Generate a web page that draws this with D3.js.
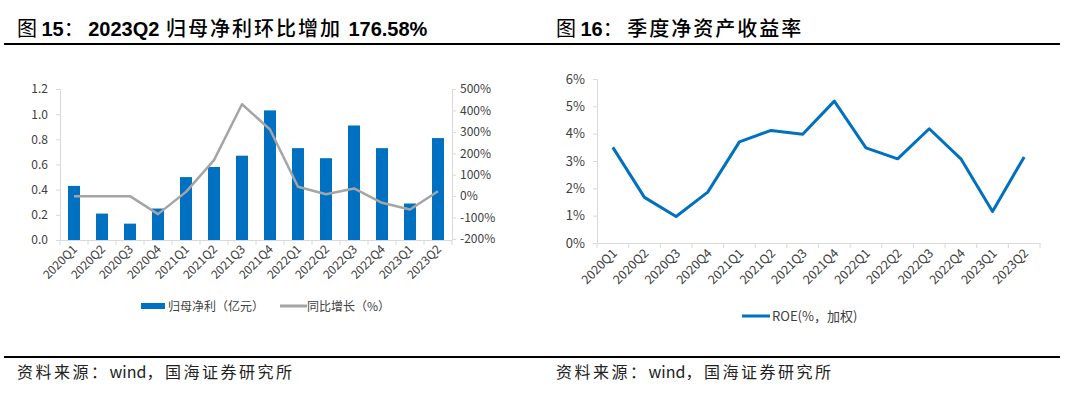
<!DOCTYPE html>
<html>
<head>
<meta charset="utf-8">
<title></title>
<script src="https://cdn.jsdelivr.net/npm/d3@7"></script>
<style>
  body{margin:0;background:#fff;}
  text{font-family:"Noto Sans CJK SC","Noto Sans",sans-serif;}
</style>
</head>
<body>
<script>
// 数据
let quarters=['2020Q1','2020Q2','2020Q3','2020Q4','2021Q1','2021Q2','2021Q3','2021Q4','2022Q1','2022Q2','2022Q3','2022Q4','2023Q1','2023Q2'];
let netProfit=[0.43,0.21,0.13,0.25,0.50,0.58,0.67,1.03,0.73,0.65,0.91,0.73,0.29,0.81];
let yoyGrowth=[0,0,0,-84,20,168,429,311,44,9,36,-31,-62,23];
let roe=[3.50,1.67,0.97,1.86,3.70,4.12,3.98,5.19,3.48,3.08,4.18,3.08,1.15,3.15];
let leftTicks=[0,0.2,0.4,0.6,0.8,1.0,1.2];
let rightTicks=[-200,-100,0,100,200,300,400,500];
let roeTicks=[0,1,2,3,4,5,6];

let blue='#0070c0', grey='#a5a5a5', axisCol='#d9d9d9', txt='#404040';

let svg=d3.select('body').append('svg').attr('width',1080).attr('height',399);

// 标题与来源
function title(x, num, rest){
  let t=svg.append('text').attr('x',x).attr('y',36).attr('font-size',20).attr('fill','#000');
  t.append('tspan').text('图 ');
  t.append('tspan').attr('font-family','Liberation Sans').attr('font-weight','bold').text(num);
  t.append('tspan').text('：  ');
  rest.forEach(r=>{
    let s=t.append('tspan').text(r.t);
    if(r.b) s.attr('font-family','Liberation Sans').attr('font-weight','bold');
    else s.attr('letter-spacing',2).attr('font-weight',500);
  });
}
title(17,'15',[{t:'2023Q2',b:true},{t:' 归母净利环比增加 '},{t:'176.58%',b:true}]);
title(556,'16',[{t:'季度净资产收益率'}]);

svg.append('line').attr('x1',4).attr('x2',1060).attr('y1',44).attr('y2',44).attr('stroke','#000').attr('stroke-width',2);
svg.append('line').attr('x1',4).attr('x2',1060).attr('y1',357).attr('y2',357).attr('stroke','#000').attr('stroke-width',2);
[17,556].forEach(x=>{
  let t=svg.append('text').attr('x',x).attr('y',378).attr('font-size',16).attr('fill','#222');
  t.append('tspan').attr('letter-spacing',2.5).text('资料来源：');
  t.append('tspan').text('wind');
  t.append('tspan').attr('letter-spacing',2.5).text('，国海证券研究所');
});

// 图15
let x1=d3.scaleBand().domain(quarters).range([60,452]);
let yL=d3.scaleLinear().domain([0,1.2]).range([240,89]);
let yR=d3.scaleLinear().domain([-200,500]).range([239,89]);

let g1=svg.append('g');

let axL=g1.append('g').attr('transform','translate(60,0)')
  .call(d3.axisLeft(yL).tickValues(leftTicks).tickFormat(d3.format('.1f')).tickSize(4));
let axR=g1.append('g').attr('transform','translate(452,0)')
  .call(d3.axisRight(yR).tickValues(rightTicks).tickFormat(d=>d+'%').tickSize(4));
[axL,axR].forEach(a=>{
  a.select('.domain').attr('stroke',axisCol);
  a.selectAll('.tick line').attr('stroke',axisCol);
  a.selectAll('.tick text').attr('font-size',12).attr('fill',txt);
});
axL.selectAll('.tick text').attr('x',-12);
axR.selectAll('.tick text').attr('x',8);

g1.selectAll('rect.bar').data(netProfit).join('rect').attr('class','bar')
  .attr('x',(d,i)=>x1(quarters[i])+x1.bandwidth()/2-6)
  .attr('width',12)
  .attr('y',d=>yL(d))
  .attr('height',d=>yL(0)-yL(d))
  .attr('fill',blue);

let xAx1=g1.append('g').attr('transform','translate(0,240)')
  .call(d3.axisBottom(x1).tickSize(0).tickFormat(''));
xAx1.select('.domain').attr('stroke',axisCol);
g1.selectAll('line.xt').data(d3.range(quarters.length+1)).join('line').attr('class','xt')
  .attr('x1',i=>60+i*x1.step()).attr('x2',i=>60+i*x1.step())
  .attr('y1',240).attr('y2',245).attr('stroke',axisCol);

let line1=d3.line().x((d,i)=>x1(quarters[i])+x1.bandwidth()/2).y(d=>yR(d));
g1.append('path').attr('d',line1(yoyGrowth)).attr('fill','none')
  .attr('stroke',grey).attr('stroke-width',2.5).attr('stroke-linejoin','round');

g1.selectAll('text.xl').data(quarters).join('text').attr('class','xl')
  .attr('transform',d=>`translate(${x1(d)+x1.bandwidth()/2+4},250) rotate(-45)`)
  .attr('text-anchor','end').attr('font-size',12).attr('fill',txt).text(d=>d);

// 图例
g1.append('rect').attr('x',141).attr('y',303).attr('width',24).attr('height',6).attr('fill',blue);
g1.append('text').attr('x',168).attr('y',311).attr('font-size',12).attr('fill',txt).text('归母净利（亿元）');
g1.append('line').attr('x1',280).attr('x2',307).attr('y1',306).attr('y2',306).attr('stroke',grey).attr('stroke-width',3);
g1.append('text').attr('x',307).attr('y',311).attr('font-size',12).attr('fill',txt).text('同比增长（%）');

// 图16
let x2=d3.scaleBand().domain(quarters).range([597,1040]);
let y2=d3.scaleLinear().domain([0,6]).range([243,79]);
let g2=svg.append('g');

let ax2=g2.append('g').attr('transform','translate(597,0)')
  .call(d3.axisLeft(y2).tickValues(roeTicks).tickFormat(d=>d+'%').tickSize(4));
ax2.select('.domain').attr('stroke',axisCol);
ax2.selectAll('.tick line').attr('stroke',axisCol);
ax2.selectAll('.tick text').attr('font-size',13).attr('fill',txt).attr('x',-12);

let xAx2=g2.append('g').attr('transform','translate(0,243)')
  .call(d3.axisBottom(x2).tickSize(0).tickFormat(''));
xAx2.select('.domain').attr('stroke',axisCol);
g2.selectAll('line.xt').data(d3.range(quarters.length+1)).join('line').attr('class','xt')
  .attr('x1',i=>597+i*x2.step()).attr('x2',i=>597+i*x2.step())
  .attr('y1',243).attr('y2',248).attr('stroke',axisCol);

let line2=d3.line().x((d,i)=>x2(quarters[i])+x2.bandwidth()/2).y(d=>y2(d));
g2.append('path').attr('d',line2(roe)).attr('fill','none')
  .attr('stroke',blue).attr('stroke-width',3).attr('stroke-linejoin','round');

g2.selectAll('text.xl').data(quarters).join('text').attr('class','xl')
  .attr('transform',d=>`translate(${x2(d)+x2.bandwidth()/2+5},254) rotate(-45)`)
  .attr('text-anchor','end').attr('font-size',12.5).attr('fill',txt).text(d=>d);

g2.append('line').attr('x1',742).attr('x2',770).attr('y1',316).attr('y2',316).attr('stroke',blue).attr('stroke-width',3);
g2.append('text').attr('x',772).attr('y',321).attr('font-size',13).attr('fill',txt).text('ROE(%，加权)');
</script>
</body>
</html>
